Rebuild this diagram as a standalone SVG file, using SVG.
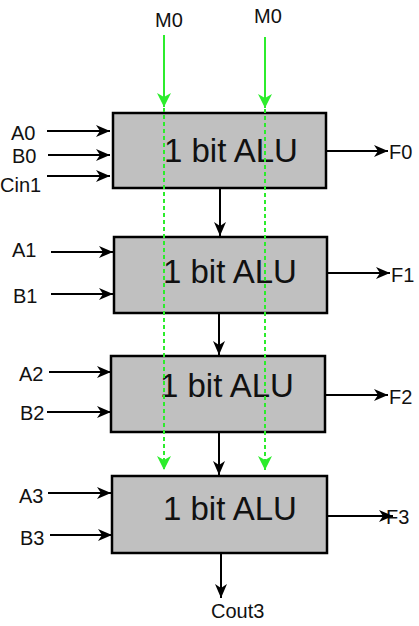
<svg xmlns="http://www.w3.org/2000/svg" width="419" height="626" viewBox="0 0 419 626">
<style>
.box{fill:#c0c0c0;stroke:#000;stroke-width:2.5}
.big{font-family:"Liberation Sans",Arial,sans-serif;font-size:33px;fill:#111}
.lbl{font-family:"Liberation Sans",Arial,sans-serif;font-size:20px;fill:#111}
.w{stroke:#000;stroke-width:2;fill:none}
.g{stroke:#2cec2c;stroke-width:2;fill:none}
.gd{stroke:#2cec2c;stroke-width:2;fill:none;stroke-dasharray:4,3}
</style>
<defs>
<marker id="ab" markerUnits="userSpaceOnUse" markerWidth="14" markerHeight="12" refX="14" refY="6" orient="auto">
<path d="M0,0 L14,6 L0,12 L4,6 z" fill="#000"/>
</marker>
<marker id="ag" markerUnits="userSpaceOnUse" markerWidth="14" markerHeight="14" refX="14" refY="7" orient="auto">
<path d="M0,0 L14,7 L0,14 L4,7 z" fill="#2cec2c"/>
</marker>
</defs>
<g id="alu0"><rect class="box" x="113" y="113" width="213" height="75"/><text class="big" x="164" y="162">1 bit ALU</text></g>
<g id="alu1"><rect class="box" x="114" y="237" width="213" height="76"/><text class="big" x="163" y="283">1 bit ALU</text></g>
<g id="alu2"><rect class="box" x="111" y="356" width="214" height="76"/><text class="big" x="160" y="397">1 bit ALU</text></g>
<g id="alu3"><rect class="box" x="112" y="476" width="215" height="77"/><text class="big" x="163" y="520">1 bit ALU</text></g>
<g id="labels">
<text class="lbl" x="155" y="27">M0</text>
<text class="lbl" x="254" y="23">M0</text>
<text class="lbl" x="11" y="140">A0</text>
<text class="lbl" x="12" y="163">B0</text>
<text class="lbl" x="0" y="192">Cin1</text>
<text class="lbl" x="389" y="159">F0</text>
<text class="lbl" x="12" y="257">A1</text>
<text class="lbl" x="13" y="303">B1</text>
<text class="lbl" x="391" y="282">F1</text>
<text class="lbl" x="19" y="381">A2</text>
<text class="lbl" x="20" y="420">B2</text>
<text class="lbl" x="389" y="404">F2</text>
<text class="lbl" x="19" y="503">A3</text>
<text class="lbl" x="20" y="545">B3</text>
<text class="lbl" x="386" y="524">F3</text>
<text class="lbl" x="211" y="618">Cout3</text>
</g>
<g id="connectors">
<line class="w" x1="47" y1="131" x2="110" y2="131" marker-end="url(#ab)"/>
<line class="w" x1="48" y1="155" x2="110" y2="155" marker-end="url(#ab)"/>
<line class="w" x1="47" y1="176" x2="110" y2="176" marker-end="url(#ab)"/>
<line class="w" x1="327" y1="151" x2="388" y2="151" marker-end="url(#ab)"/>
<line class="w" x1="220" y1="189" x2="220" y2="236" marker-end="url(#ab)"/>
<line class="w" x1="51" y1="252" x2="113" y2="252" marker-end="url(#ab)"/>
<line class="w" x1="51" y1="294" x2="113" y2="294" marker-end="url(#ab)"/>
<line class="w" x1="328" y1="273" x2="390" y2="273" marker-end="url(#ab)"/>
<line class="w" x1="219" y1="314" x2="219" y2="355" marker-end="url(#ab)"/>
<line class="w" x1="49" y1="372" x2="111" y2="372" marker-end="url(#ab)"/>
<line class="w" x1="47" y1="412" x2="111" y2="412" marker-end="url(#ab)"/>
<line class="w" x1="326" y1="395" x2="388" y2="395" marker-end="url(#ab)"/>
<line class="w" x1="219" y1="433" x2="219" y2="475" marker-end="url(#ab)"/>
<line class="w" x1="48" y1="493" x2="111" y2="493" marker-end="url(#ab)"/>
<line class="w" x1="50" y1="535" x2="112" y2="535" marker-end="url(#ab)"/>
<line class="w" x1="328" y1="516" x2="393" y2="516" marker-end="url(#ab)"/>
<line class="w" x1="221" y1="554" x2="221" y2="598" marker-end="url(#ab)"/>
<line class="g" x1="164" y1="35" x2="164" y2="107" marker-end="url(#ag)"/>
<line class="g" x1="265" y1="37" x2="265" y2="108" marker-end="url(#ag)"/>
<line class="gd" x1="164" y1="108" x2="164" y2="470" marker-end="url(#ag)"/>
<line class="gd" x1="265" y1="109" x2="265" y2="470" marker-end="url(#ag)"/>
</g>
</svg>
